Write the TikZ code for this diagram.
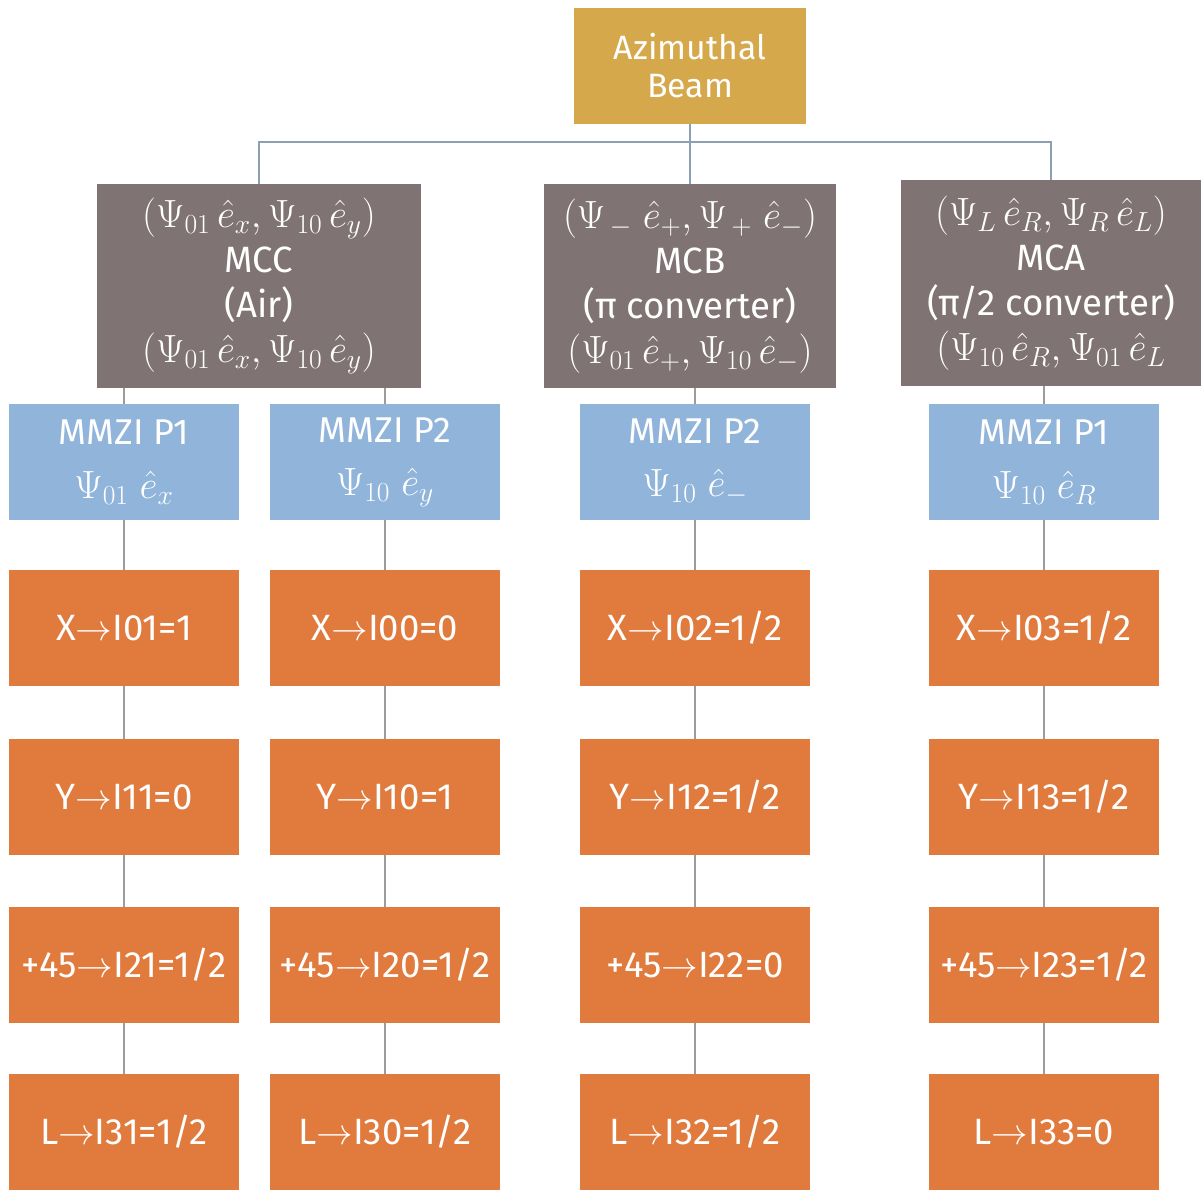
\RequirePackage{fix-cm}
\documentclass[tikz,border=0pt]{standalone}
\usepackage{amsmath}
\usepackage{fontspec}
\setmainfont{Fira Sans}
\usepackage{tikz}
\usetikzlibrary{positioning}
\definecolor{beamgold}{HTML}{D5A84B}
\definecolor{modegray}{HTML}{7F7473}
\definecolor{mmziblue}{HTML}{90B4DA}
\definecolor{measorange}{HTML}{E07A3D}
\definecolor{linkgray}{HTML}{9C9C9C}
\definecolor{trunkblue}{HTML}{8BA0B2}
\newcommand{\stateline}[1]{{\fontsize{28}{32}\selectfont$#1$}}
\tikzstyle{beambox} = [rectangle, minimum width=5.8cm, minimum height=2.9cm, inner sep=0pt, align=center, fill=beamgold, text=white, font=\fontsize{24}{27}\selectfont]
\tikzstyle{modebox} = [rectangle, minimum height=5.1cm, inner sep=0pt, align=center, fill=modegray, text=white, font=\fontsize{26}{32}\selectfont]
\tikzstyle{mmzibox} = [rectangle, minimum width=5.75cm, minimum height=2.9cm, inner sep=0pt, align=center, fill=mmziblue, text=white, font=\fontsize{25.5}{38}\selectfont]
\tikzstyle{measbox} = [rectangle, minimum width=5.725cm, minimum height=2.9cm, inner sep=0pt, align=center, fill=measorange, text=white, font=\fontsize{26}{28}\selectfont]
\tikzstyle{link} = [draw=linkgray, line width=1pt]
\tikzstyle{trunk} = [draw=trunkblue, line width=1pt]

\begin{document}
\begin{tikzpicture}[x=0.025cm, y=-0.025cm]
\useasboundingbox (0,0) rectangle (1201,1189);

\node (beam) [beambox] at (690,66) {Azimuthal\\Beam};

% mode converters
\node (mcc) [modebox, minimum width=8.1cm] at (259,286) {\stateline{(\Psi_{01}\,\hat{e}_x,\Psi_{10}\,\hat{e}_y)}\\MCC\\(Air)\\\stateline{(\Psi_{01}\,\hat{e}_x,\Psi_{10}\,\hat{e}_y)}};
\node (mcb) [modebox, minimum width=7.275cm] at (690,286) {\stateline{(\Psi_{\,-}\;\hat{e}_{+},\Psi_{\,+}\;\hat{e}_{-})}\\MCB\\(π converter)\\\stateline{(\Psi_{01}\,\hat{e}_{+},\Psi_{10}\,\hat{e}_{-})}};
\node (mca) [modebox, minimum width=7.5cm, minimum height=5.15cm] at (1051,283) {\stateline{(\Psi_{L}\,\hat{e}_R,\Psi_{R}\,\hat{e}_L)}\\MCA\\(π/2 converter)\\\stateline{(\Psi_{10}\,\hat{e}_R,\Psi_{01}\,\hat{e}_L}};

% interferometers
\node (p1) [mmzibox] at (124,462) {MMZI P1\\\stateline{\Psi_{01}\;\hat{e}_x}};
\node (p2) [mmzibox] at (385,462) {MMZI P2\\\stateline{\Psi_{10}\;\hat{e}_y}};
\node (p3) [mmzibox] at (695,462) {MMZI P2\\\stateline{\Psi_{10}\;\hat{e}_-}};
\node (p4) [mmzibox] at (1044,462) {MMZI P1\\\stateline{\Psi_{10}\;\hat{e}_R}};

% measurements
\node (x1) [measbox] at (124,628) {X$\rightarrow$I01=1};
\node (y1) [measbox] at (124,797) {Y$\rightarrow$I11=0};
\node (d1) [measbox] at (124,965) {+45$\rightarrow$I21=1/2};
\node (l1) [measbox] at (124,1132) {L$\rightarrow$I31=1/2};

\node (x2) [measbox] at (385,628) {X$\rightarrow$I00=0};
\node (y2) [measbox] at (385,797) {Y$\rightarrow$I10=1};
\node (d2) [measbox] at (385,965) {+45$\rightarrow$I20=1/2};
\node (l2) [measbox] at (385,1132) {L$\rightarrow$I30=1/2};

\node (x3) [measbox] at (695,628) {X$\rightarrow$I02=1/2};
\node (y3) [measbox] at (695,797) {Y$\rightarrow$I12=1/2};
\node (d3) [measbox] at (695,965) {+45$\rightarrow$I22=0};
\node (l3) [measbox] at (695,1132) {L$\rightarrow$I32=1/2};

\node (x4) [measbox] at (1044,628) {X$\rightarrow$I03=1/2};
\node (y4) [measbox] at (1044,797) {Y$\rightarrow$I13=1/2};
\node (d4) [measbox] at (1044,965) {+45$\rightarrow$I23=1/2};
\node (l4) [measbox] at (1044,1132) {L$\rightarrow$I33=0};

\coordinate (hub) at (690,142);
\draw [trunk] (beam) -- (mcb);
\draw [trunk] (mcc.north) |- (hub) -| (mca.north);

\draw [link] (mcc.south -| p1.north) -- (p1);
\draw [link] (mcc.south -| p2.north) -- (p2);
\draw [link] (mcb.south -| p3.north) -- (p3);
\draw [link] (mca.south -| p4.north) -- (p4);

\draw [link] (p1) -- (x1) -- (y1) -- (d1) -- (l1);
\draw [link] (p2) -- (x2) -- (y2) -- (d2) -- (l2);
\draw [link] (p3) -- (x3) -- (y3) -- (d3) -- (l3);
\draw [link] (p4) -- (x4) -- (y4) -- (d4) -- (l4);

\end{tikzpicture}
\end{document}
